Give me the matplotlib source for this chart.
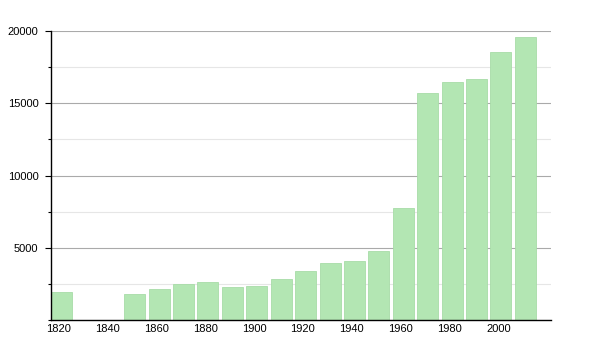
import matplotlib
matplotlib.use("Agg")
import matplotlib.pyplot as plt
from matplotlib.ticker import MultipleLocator

years = [1820, 1850, 1860, 1870, 1880, 1890, 1900, 1910, 1920, 1930, 1940,
         1950, 1960, 1970, 1980, 1990, 2000, 2010]
population = [1950, 1800, 2120, 2490, 2630, 2300, 2370, 2840, 3390, 3940, 4080,
              4780, 7750, 15710, 16470, 16680, 18550, 19580]
xtick_years = [1820, 1840, 1860, 1880, 1900, 1920, 1940, 1960, 1980, 2000]
ytick_vals = [5000, 10000, 15000, 20000]

plt.rcParams['font.family'] = ['Liberation Sans', 'DejaVu Sans']
fig = plt.figure(figsize=(6, 3.5), dpi=100)
ax = fig.add_axes([51/600, 30/350, 500/600, 289/350])

bar_offset = 1.1
ax.bar([y + bar_offset for y in years], population, width=8.6, color='#b3e6b3',
       edgecolor='#a8dca8', linewidth=0.6, zorder=2)

ax.set_xlim(1816.8, 2021.6)
ax.set_ylim(0, 20000)
ax.set_yticks(ytick_vals)
ax.yaxis.set_minor_locator(MultipleLocator(2500))
ax.set_xticks(xtick_years)
ax.tick_params(axis='x', length=0, labelsize=8, pad=3)
ax.tick_params(axis='y', which='major', length=4, width=0.8, labelsize=8,
               direction='out', pad=5)
ax.tick_params(axis='y', which='minor', length=2.5, width=0.8, direction='out')
ax.grid(axis='y', which='major', color='#aaaaaa', linewidth=0.8, zorder=0)
ax.grid(axis='y', which='minor', color='#e6e6e6', linewidth=0.8, zorder=0)
ax.set_axisbelow(True)
for s in ['top', 'right']:
    ax.spines[s].set_visible(False)
ax.spines['left'].set_color('black')
ax.spines['bottom'].set_color('black')
ax.spines['left'].set_linewidth(1.0)
ax.spines['bottom'].set_linewidth(1.0)

fig.savefig('out.png', dpi=100)
